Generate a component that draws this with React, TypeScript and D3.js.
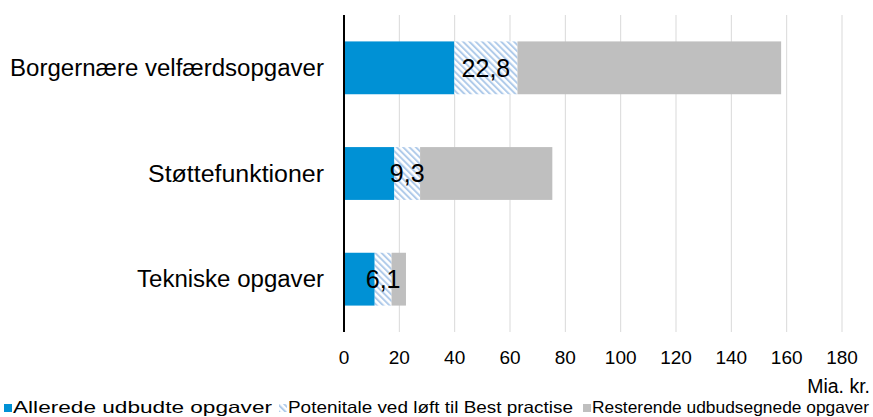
import * as React from 'react';
import * as d3 from 'd3';

// kategorier (oppefra og ned) og værdier i mia. kr.
const categories = ['Borgernære velfærdsopgaver', 'Støttefunktioner', 'Tekniske opgaver'];
const allerede = [39.9, 18.2, 11.1];
const potentiale = [22.8, 9.3, 6.1];
const resterende = [95.3, 47.8, 5.2];
const potentialeLabels = ['22,8', '9,3', '6,1'];

const seriesNames = ['Allerede udbudte opgaver', 'Potenitale ved løft til Best practise', 'Resterende udbudsegnede opgaver'];
const xTicks = [0, 20, 40, 60, 80, 100, 120, 140, 160, 180];

const keys = ['allerede', 'potentiale', 'resterende'];
const colors = ['#0091d5', 'url(#hatch)', '#bfbfbf'];
const font = 'Liberation Sans, Arial, sans-serif';

// the source font is a bit wider than Liberation, so widths are pinned
const catWidths = [314, 176, 187];
const legendX = [4, 279, 583];
const legendW = [259, 285, 277];

export default function App() {
  const width = 873;
  const height = 417;
  const margin = { top: 15, right: 31, bottom: 85, left: 344 };

  const x = d3.scaleLinear().domain([0, 180]).range([margin.left, width - margin.right]);
  const y = d3.scaleBand<string>()
    .domain(categories)
    .range([margin.top, height - margin.bottom])
    .paddingInner(0.5)
    .paddingOuter(0.25);

  const rows = categories.map((c, i) => ({
    cat: c,
    allerede: allerede[i],
    potentiale: potentiale[i],
    resterende: resterende[i],
  }));
  const stacked = d3.stack<any>().keys(keys)(rows);

  return (
    <svg width={width} height={height}
         style={{ position: 'absolute', left: 0, top: 0, background: '#fff' }}
         fontFamily={font}>
      <defs>
        <pattern id="hatch" patternUnits="userSpaceOnUse" width="4.5" height="4.5"
                 patternTransform="rotate(-45)">
          <rect width="4.5" height="4.5" fill="#fff" />
          <rect x="0" y="0" width="2" height="4.5" fill="#b0cbea" />
        </pattern>
      </defs>

      {/* gridlines */}
      <g>
        {xTicks.filter(t => t > 0).map(t => (
          <line key={t} x1={x(t)} x2={x(t)} y1={margin.top} y2={height - margin.bottom}
                stroke="#d9d9d9" strokeWidth={1} />
        ))}
      </g>

      {/* bars */}
      {stacked.map((s, si) => (
        <g key={s.key} fill={colors[si]}>
          {s.map((d, i) => (
            <rect key={i} x={x(d[0])} width={x(d[1]) - x(d[0])}
                  y={y(categories[i])} height={y.bandwidth()} />
          ))}
        </g>
      ))}

      {/* data labels on potentiale */}
      {stacked[1].map((d, i) => (
        <text key={i} x={(x(d[0]) + x(d[1])) / 2} y={(y(categories[i]) as number) + y.bandwidth() / 2}
              dy="0.35em" textAnchor="middle" fontSize={25} fill="#000">
          {potentialeLabels[i]}
        </text>
      ))}

      {/* y axis line */}
      <line x1={x(0)} x2={x(0)} y1={margin.top} y2={height - margin.bottom}
            stroke="#000" strokeWidth={2} />

      {/* category labels */}
      {categories.map((c, i) => (
        <text key={c} x={324} y={(y(c) as number) + y.bandwidth() / 2} dy="0.35em"
              textAnchor="end" fontSize={23} fill="#000"
              textLength={catWidths[i]} lengthAdjust="spacingAndGlyphs">{c}</text>
      ))}

      {/* x tick labels */}
      {xTicks.map(t => (
        <text key={t} x={x(t)} y={364} textAnchor="middle" fontSize={19} fill="#000">{t}</text>
      ))}
      <text x={870} y={393} textAnchor="end" fontSize={19.5} fill="#000">Mia. kr.</text>

      {/* legend */}
      {seriesNames.map((n, i) => (
        <g key={n} transform={`translate(${legendX[i]},413)`}>
          <rect x={0} y={-9} width={8} height={8} fill={colors[i]} />
          <text x={9} y={0} fontSize={16.5} fill="#000"
                textLength={legendW[i]} lengthAdjust="spacingAndGlyphs">{n}</text>
        </g>
      ))}
    </svg>
  );
}
